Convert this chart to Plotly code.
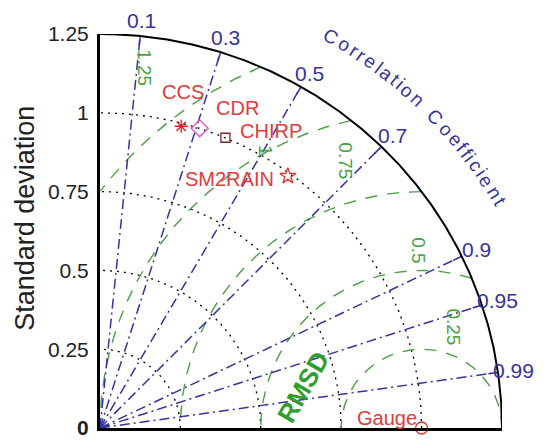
import numpy as np
import plotly.graph_objects as go

# normalised Taylor statistics
products = ["CCS", "CDR", "CHIRP", "SM2RAIN", "Gauge"]
std_dev = [0.99, 1.00, 1.00, 0.99, 1.00]
corr_coef = [0.255, 0.31, 0.39, 0.59, 1.0]

# axes / grid definitions
ref_std = 1.0
max_std = 1.25
std_tickvals = [0, 0.25, 0.5, 0.75, 1.0, 1.25]
std_ticktext = ["<b>0</b>", "0.25", "0.5", "0.75", "1", "1.25"]
std_arcs = [0.25, 0.5, 0.75, 1.0]
cor_ticks = [0.1, 0.3, 0.5, 0.7, 0.9, 0.95, 0.99]
cor_ticktext = ["0.1", "0.3", "0.5", "0.7", "0.9", "0.95", "0.99"]
rms_ticks = [0.25, 0.5, 0.75, 1.0, 1.25]
rms_ticktext = ["0.25", "0.5", "0.75", "1", "1.25"]

FONT = "Arial, Liberation Sans, sans-serif"
BLUE = "#34349c"
GREEN = "#4aa044"
RED = "#e23a3a"

# marker styles and label offsets (pixels) per product
sty = {
    "CCS": dict(symbol="asterisk-open", color="#e01c1c", size=11, shift=(2, 34)),
    "CDR": dict(symbol="diamond-open", color="#e050b8", size=13, shift=(38, 20)),
    "CHIRP": dict(symbol="square-open", color="#7a2626", size=9, shift=(46, 7)),
    "SM2RAIN": dict(symbol="star-open", color="#e03030", size=12, shift=(-58, -3)),
    "Gauge": dict(symbol="circle-open", color="#e03030", size=12, shift=(-35, 10)),
}


def to_paper(x, y):
    # both axes span [0, max_std] over the full domain
    return x / max_std, y / max_std


fig = go.Figure()
th = np.linspace(0, np.pi / 2, 300)

# standard deviation arcs (dotted)
for s in std_arcs:
    fig.add_trace(go.Scatter(x=s * np.cos(th), y=s * np.sin(th), mode="lines",
                             line=dict(color="black", width=1.3, dash="2px,5px"),
                             hoverinfo="skip", showlegend=False))

# centred RMS difference circles (green dashed), clipped to the quadrant
phi = np.linspace(0, np.pi, 600)
for r in rms_ticks:
    xx = ref_std + r * np.cos(phi)
    yy = r * np.sin(phi)
    bad = (xx ** 2 + yy ** 2 > max_std ** 2) | (xx < 0)
    xx = np.where(bad, np.nan, xx)
    yy = np.where(bad, np.nan, yy)
    fig.add_trace(go.Scatter(x=xx, y=yy, mode="lines", connectgaps=False,
                             line=dict(color=GREEN, width=1.4, dash="12px,10px"),
                             hoverinfo="skip", showlegend=False))

# correlation rays (blue dash-dot)
for c in cor_ticks:
    a = np.arccos(c)
    fig.add_trace(go.Scatter(x=[0, max_std * np.cos(a)], y=[0, max_std * np.sin(a)],
                             mode="lines", line=dict(color=BLUE, width=1.5, dash="10px,4px,2px,4px"),
                             hoverinfo="skip", showlegend=False))
    fig.add_trace(go.Scatter(x=[1.22 * np.cos(a), max_std * np.cos(a)],
                             y=[1.22 * np.sin(a), max_std * np.sin(a)],
                             mode="lines", line=dict(color=BLUE, width=1.5),
                             hoverinfo="skip", showlegend=False))

# outer arc
fig.add_trace(go.Scatter(x=max_std * np.cos(th), y=max_std * np.sin(th), mode="lines",
                         line=dict(color="black", width=2), hoverinfo="skip", showlegend=False))

# products
for p, s, c in zip(products, std_dev, corr_coef):
    a = np.arccos(c)
    st = sty[p]
    x, y = s * np.cos(a), s * np.sin(a)
    fig.add_trace(go.Scatter(x=[x], y=[y], mode="markers", cliponaxis=False,
                             marker=dict(symbol=st["symbol"], size=st["size"], color=st["color"],
                                         line=dict(width=1.3, color=st["color"])),
                             name=p, showlegend=False))
    fig.add_annotation(x=x, y=y, text=p, showarrow=False, xshift=st["shift"][0],
                       yshift=st["shift"][1], font=dict(family=FONT, size=20, color=RED))

# correlation tick labels
for c, t in zip(cor_ticks, cor_ticktext):
    a = np.arccos(c)
    px, py = to_paper(1.3 * np.cos(a), 1.3 * np.sin(a))
    fig.add_annotation(xref="paper", yref="paper", x=px, y=py, text=t, showarrow=False,
                       xanchor="center", yanchor="middle",
                       font=dict(family=FONT, size=21, color=BLUE))

# curved axis title
title = "Correlation Coefficient"
wtab = {"C": .722, "o": .556, "r": .333, "e": .556, "l": .222, "a": .556, "t": .278,
        "i": .222, "n": .556, " ": .35, "f": .278, "c": .5}
w = np.array([wtab.get(ch, .55) for ch in title])
mid = np.cumsum(w) - w / 2
ang = 60 - (mid - mid[0]) / (mid[-1] - mid[0]) * 30
for ch, g in zip(title, ang):
    if ch == " ":
        continue
    gr = np.radians(g)
    px, py = to_paper(1.435 * np.cos(gr), 1.435 * np.sin(gr))
    fig.add_annotation(xref="paper", yref="paper", x=px, y=py, text=ch, showarrow=False,
                       xanchor="center", yanchor="middle", textangle=90 - g,
                       font=dict(family=FONT, size=19, color=BLUE))

# RMS labels (angle about the reference point, radial offset)
rms_lab_ang = [72.6, 91, 105.6, 119, 127]
rms_lab_off = [0.085, 0.063, 0.13, 0.005, 0.18]
for r, t, g, o in zip(rms_ticks, rms_ticktext, rms_lab_ang, rms_lab_off):
    gr = np.radians(g)
    fig.add_annotation(x=ref_std + (r + o) * np.cos(gr), y=(r + o) * np.sin(gr), text=t,
                       showarrow=False, textangle=90,
                       font=dict(family=FONT, size=19, color=GREEN))
fig.add_annotation(x=0.632, y=0.13, text="<b>RMSD</b>", showarrow=False, textangle=-60,
                   font=dict(family=FONT, size=26, color="#2f9e2f"))

# y axis title
fig.add_annotation(xref="paper", yref="paper", x=-0.187, y=0.533, text="Standard deviation",
                   showarrow=False, textangle=-90, xanchor="center", yanchor="middle",
                   borderpad=0, font=dict(family=FONT, size=27, color="#222"))

# page body has an 8px margin, so the figure is 8px smaller than the window
fig.update_layout(
    width=542, height=438,
    margin=dict(l=92, r=48, t=26, b=18),
    paper_bgcolor="white", plot_bgcolor="white",
    xaxis=dict(range=[0, max_std], showgrid=False, zeroline=False, showticklabels=False,
               showline=True, linecolor="black", linewidth=3, ticks="", automargin=False),
    yaxis=dict(range=[0, max_std], showgrid=False, zeroline=False, showline=True,
               linecolor="black", linewidth=3, ticks="", tickvals=std_tickvals,
               ticktext=std_ticktext, ticklabelstandoff=4, automargin=False,
               tickfont=dict(family=FONT, size=21, color="#222")),
)

fig.write_html("out.html")
